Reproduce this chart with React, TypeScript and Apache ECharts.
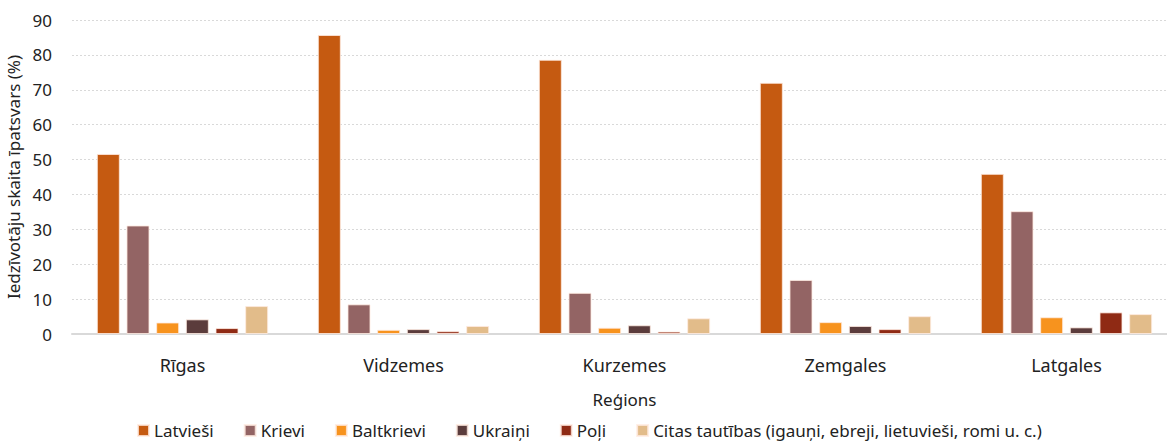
import React, { useEffect, useRef } from "react";
import * as echarts from "echarts";

const regions = ["Rīgas", "Vidzemes", "Kurzemes", "Zemgales", "Latgales"];
const latviesi = [51.6, 85.7, 78.6, 72.0, 45.9];
const krievi = [31.1, 8.5, 11.8, 15.5, 35.2];
const baltkrievi = [3.3, 1.2, 1.8, 3.4, 4.8];
const ukraini = [4.2, 1.4, 2.5, 2.3, 1.9];
const poli = [1.7, 0.8, 0.7, 1.4, 6.2];
const citas = [8.0, 2.3, 4.5, 5.1, 5.7];
const seriesNames = [
  "Latvieši",
  "Krievi",
  "Baltkrievi",
  "Ukraiņi",
  "Poļi",
  "Citas tautības (igauņi, ebreji, lietuvieši, romi u. c.)",
];
const seriesData = [latviesi, krievi, baltkrievi, ukraini, poli, citas];
const colors = ["#C55A11", "#936464", "#F7931E", "#5B3C3C", "#8F2A14", "#E2BC8A"];

const FONT = "'Noto Sans', 'Open Sans', sans-serif";

export default function App() {
  const ref = useRef<HTMLDivElement>(null);
  useEffect(() => {
    if (!ref.current) return;
    const chart = echarts.init(ref.current, undefined, { renderer: "svg" });
    chart.setOption({
      animation: false,
      textStyle: { fontFamily: FONT },
      grid: { left: 72, width: 1105, top: 20, height: 314, outerBoundsMode: "none" },
      legend: {
        bottom: -3,
        left: 132,
        itemWidth: 11,
        itemHeight: 11,
        itemGap: 30,
        icon: "rect",
        textStyle: { fontSize: 17, color: "#222", fontFamily: FONT },
        data: seriesNames,
      },
      xAxis: {
        type: "category",
        data: regions,
        name: "Reģions",
        nameLocation: "middle",
        nameGap: 57,
        nameTextStyle: { fontSize: 17, color: "#222", fontFamily: FONT },
        axisLine: { lineStyle: { color: "#D9D9D9", width: 2 } },
        axisTick: { show: false },
        axisLabel: { fontSize: 18, color: "#222", margin: 22, fontFamily: FONT },
      },
      yAxis: {
        type: "value",
        min: 0,
        max: 90,
        interval: 10,
        name: "Iedzīvotāju skaita īpatsvars (%)",
        nameLocation: "middle",
        nameGap: 43,
        nameTextStyle: { fontSize: 17, color: "#222", fontFamily: FONT },
        axisLabel: { fontSize: 17, color: "#222", margin: 20, fontFamily: FONT },
        splitLine: { lineStyle: { color: "#D9D9D9", type: [2, 2], width: 1 } },
      },
      series: seriesData.map((d, i) => ({
        name: seriesNames[i],
        type: "bar",
        data: d,
        barWidth: 23,
        barGap: "29%",
        itemStyle: {
          color: colors[i],
          borderColor: "rgba(255,235,225,0.8)",
          borderWidth: 1,
        },
      })),
    });
    return () => chart.dispose();
  }, []);
  return (
    <div
      ref={ref}
      style={{ position: "fixed", left: 0, top: 0, width: 1167, height: 441, background: "#fff" }}
    />
  );
}
